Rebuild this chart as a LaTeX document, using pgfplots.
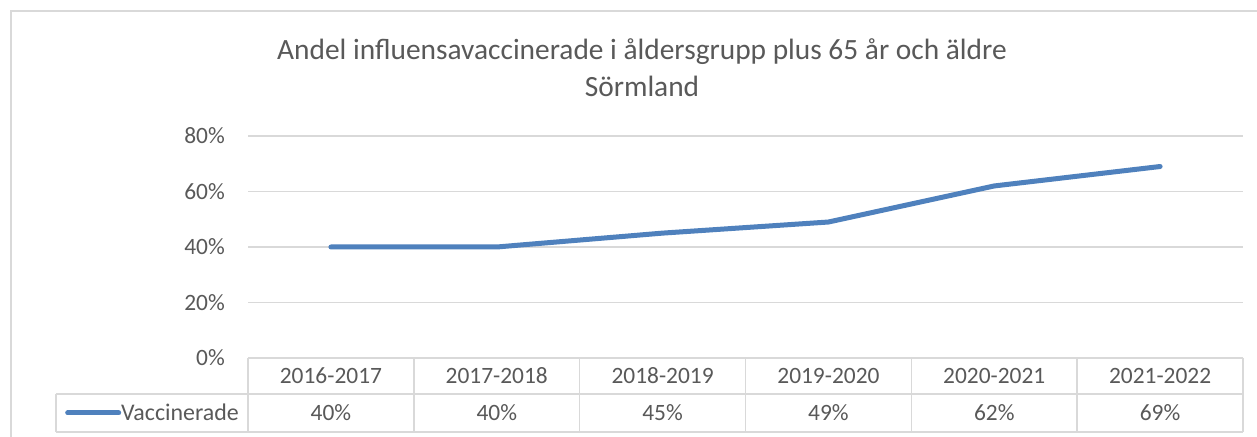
\documentclass[border=0pt]{standalone}
\usepackage{pgfplots}
\pgfplotsset{compat=1.18}
\usepackage{fontspec}
\setmainfont{Carlito}
\definecolor{txt}{HTML}{595959}
\definecolor{gridc}{HTML}{D9D9D9}
\definecolor{lineblue}{HTML}{4F81BD}
\begin{document}
\begin{tikzpicture}
\begin{scope}[x=1bp,y=1bp]
\useasboundingbox (0,0) rectangle (1257,437);
\fill[white] (0,0) rectangle (1257,437);
\draw[gridc, line width=1.5bp] (11,0) -- (11,426) -- (1257,426);
\node[text=txt, font=\fontsize{29.5}{37}\selectfont, align=center] at (642,369) {Andel influensavaccinerade i åldersgrupp plus 65 år och äldre\\Sörmland};
\end{scope}
\begin{axis}[
  at={(248bp,79bp)}, anchor=south west,
  scale only axis, width=995bp, height=222bp,
  xmin=-0.5, xmax=5.5, ymin=0, ymax=80,
  clip=false,
  /pgf/number format/assume math mode=true,
  axis line style={draw=none},
  major tick length=0pt,
  ytick={0,20,40,60,80},
  ymajorgrids, grid style={gridc, line width=1.5bp},
  yticklabel={\pgfmathprintnumber{\tick}\%},
  yticklabel style={anchor=east, inner sep=0pt, xshift=-23bp, text=txt, font=\fontsize{23.5}{28}\selectfont},
  xtick={0,1,2,3,4,5},
  xticklabels={2016-2017,2017-2018,2018-2019,2019-2020,2020-2021,2021-2022},
  xticklabel style={anchor=center, inner sep=0pt, yshift=-18bp, text=txt, font=\fontsize{23.5}{28}\selectfont},
  legend style={draw=none, fill=none, at={(-0.18391,-0.24775)}, anchor=west, inner sep=0pt,
    nodes={inner sep=0pt, text=txt, font=\fontsize{24}{28}\selectfont},
    /tikz/every even column/.append style={column sep=3bp}},
  legend image code/.code={\draw[lineblue, line width=5bp, line cap=round] (2.5bp,0bp) -- (53.5bp,0bp);},
]
\draw[gridc, line width=1.5bp] (axis cs:-0.5,0) -- (axis cs:5.5,0);
\draw[gridc, line width=1.5bp] (axis cs:-1.6578,-12.97) -- (axis cs:5.5,-12.97);
\draw[gridc, line width=1.5bp] (axis cs:-1.6578,-26.67) -- (axis cs:5.5,-26.67);
\draw[gridc, line width=1.5bp] (axis cs:-1.6578,-12.97) -- (axis cs:-1.6578,-26.67);
\draw[gridc, line width=1.5bp] (axis cs:-0.5,0) -- (axis cs:-0.5,-26.67);
\draw[gridc, line width=1.5bp] (axis cs:0.5,0) -- (axis cs:0.5,-26.67);
\draw[gridc, line width=1.5bp] (axis cs:1.5,0) -- (axis cs:1.5,-26.67);
\draw[gridc, line width=1.5bp] (axis cs:2.5,0) -- (axis cs:2.5,-26.67);
\draw[gridc, line width=1.5bp] (axis cs:3.5,0) -- (axis cs:3.5,-26.67);
\draw[gridc, line width=1.5bp] (axis cs:4.5,0) -- (axis cs:4.5,-26.67);
\draw[gridc, line width=1.5bp] (axis cs:5.5,0) -- (axis cs:5.5,-26.67);
\addplot[lineblue, line width=5bp, line cap=round, line join=round, mark=none]
  coordinates {(0,40) (1,40) (2,45) (3,49) (4,62) (5,69)};
\addlegendentry{Vaccinerade}
\addplot[draw=none, mark=none, point meta=explicit,
  nodes near coords={\pgfmathprintnumber{\pgfplotspointmeta}\%},
  nodes near coords align=center,
  every node near coord/.append style={anchor=center, inner sep=0pt, text=txt, font=\fontsize{23.5}{28}\selectfont}]
  coordinates {(0,-19.82) [40] (1,-19.82) [40] (2,-19.82) [45] (3,-19.82) [49] (4,-19.82) [62] (5,-19.82) [69]};
\end{axis}
\end{tikzpicture}
\end{document}
